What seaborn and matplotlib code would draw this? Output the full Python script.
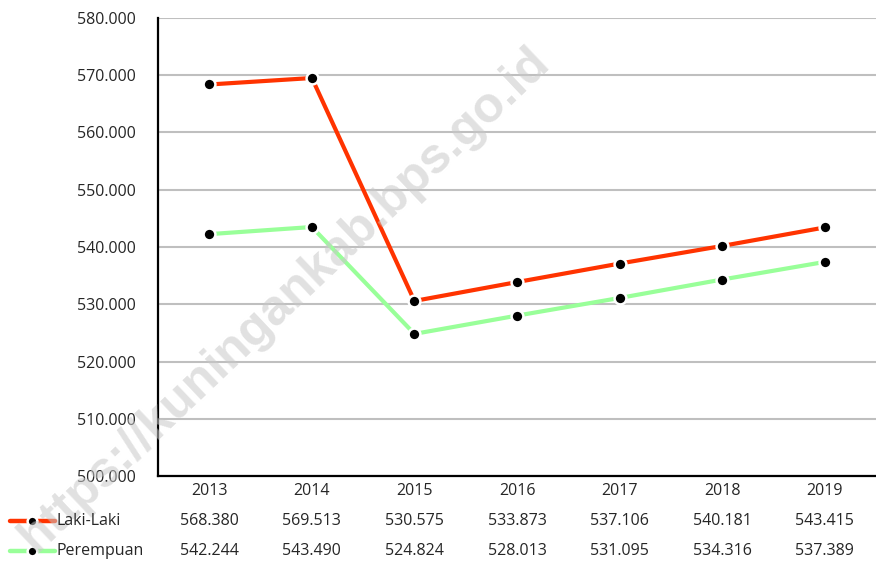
import matplotlib
matplotlib.use('Agg')
import matplotlib.pyplot as plt
import matplotlib.transforms as mtransforms
from matplotlib.lines import Line2D
from matplotlib.ticker import FuncFormatter
import pandas as pd
import seaborn as sns

# Data (jumlah penduduk per jenis kelamin)
tahun = ['2013', '2014', '2015', '2016', '2017', '2018', '2019']
laki_laki = [568380, 569513, 530575, 533873, 537106, 540181, 543415]
perempuan = [542244, 543490, 524824, 528013, 531095, 534316, 537389]
seri = ['Laki-Laki', 'Perempuan']
warna = {'Laki-Laki': '#ff3300', 'Perempuan': '#99ff99'}

df = pd.DataFrame({
    'tahun': tahun * 2,
    'nilai': laki_laki + perempuan,
    'seri': [seri[0]] * len(tahun) + [seri[1]] * len(tahun),
})

sns.set_theme(style='white')
plt.rcParams['font.family'] = ['Open Sans', 'DejaVu Sans']
ukuran = 11.5
warna_teks = '#262626'

fig = plt.figure(figsize=(8.76, 5.65), dpi=100)
ax = fig.add_axes([0.1804, 0.1575, 0.8196, 0.8107])

for nama in seri:
    sub = df[df['seri'] == nama]
    sns.lineplot(data=sub, x='tahun', y='nilai', ax=ax, color=warna[nama],
                 linewidth=3, marker='o', markersize=8.5, markerfacecolor='black',
                 markeredgecolor='white', markeredgewidth=1.8, zorder=3, legend=False)

ax.set_xlim(-0.5, len(tahun) - 0.5)
ax.set_ylim(500000, 580000)
ax.set_yticks(range(500000, 580001, 10000))
ax.yaxis.set_major_formatter(FuncFormatter(lambda v, p: f'{int(v):,}'.replace(',', '.')))
ax.grid(axis='y', color='#bfbfbf', linewidth=1.5)
ax.set_axisbelow(True)
for s in ['top', 'right']:
    ax.spines[s].set_visible(False)
ax.spines['left'].set_color('black')
ax.spines['left'].set_linewidth(1.6)
ax.spines['bottom'].set_color('black')
ax.spines['bottom'].set_linewidth(1.6)
ax.set_xlabel('')
ax.set_ylabel('')
ax.tick_params(axis='y', length=0, pad=16, labelsize=ukuran, labelcolor=warna_teks)
ax.tick_params(axis='x', length=0, pad=5, labelsize=ukuran, labelcolor=warna_teks)

# Tabel data di bawah grafik
trans = mtransforms.blended_transform_factory(ax.transData, ax.transAxes)
baris_y = [-0.098, -0.164]
for nama, nilai, y in zip(seri, [laki_laki, perempuan], baris_y):
    for i, v in enumerate(nilai):
        ax.text(i, y, f'{v:,}'.replace(',', '.'), transform=trans, ha='center', va='center',
                fontsize=ukuran, color=warna_teks, clip_on=False)
    yf = 1 - (476 - y * 458) / 565
    fig.add_artist(Line2D([10 / 876, 55 / 876], [yf, yf], color=warna[nama], linewidth=3.2))
    fig.add_artist(Line2D([32 / 876], [yf], marker='o', markersize=7, markerfacecolor='black',
                          markeredgecolor='white', markeredgewidth=1.8, linestyle='none'))
    fig.text(57 / 876, yf, nama, ha='left', va='center', fontsize=ukuran, color=warna_teks)

# Watermark
fig.text(0.325, 0.47, 'https://kuningankab.bps.go.id', rotation=43.5, ha='center', va='center',
         fontsize=36, fontweight='bold', color='#c8c8c8', alpha=0.55,
         family=['Liberation Sans', 'DejaVu Sans'], zorder=2)

fig.savefig('out.png', dpi=100)
